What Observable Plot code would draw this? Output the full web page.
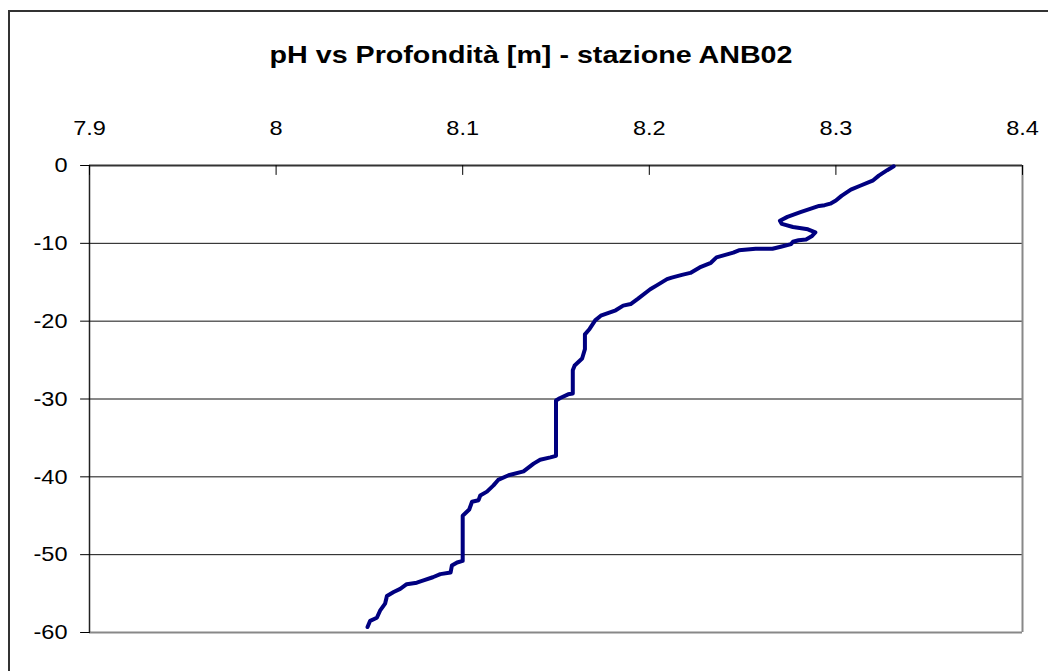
<!DOCTYPE html>
<html><head><meta charset="utf-8">
<script src="https://cdn.jsdelivr.net/npm/d3@7"></script>
<script src="https://cdn.jsdelivr.net/npm/@observablehq/plot@0.6"></script>
<style>
body{margin:0;background:#fff;}
#wrap{position:relative;width:1048px;height:671px;overflow:hidden;background:#fff;}
#border{position:absolute;left:8px;top:10px;width:2000px;height:2000px;border-left:2px solid #333;border-top:2px solid #333;pointer-events:none;z-index:2;}
#wrap svg{position:absolute;left:0;top:0;}
</style></head><body>
<div id="wrap"><div id="border"></div></div>
<script>
const title = "pH vs Profondità [m] - stazione ANB02";
const xTicks = [7.9, 8, 8.1, 8.2, 8.3, 8.4];
const yTicks = [0, -10, -20, -30, -40, -50, -60];
const gridDepths = [-10, -20, -30, -40, -50];

const ph = [8.331, 8.3275, 8.323, 8.320, 8.313, 8.308, 8.303, 8.300, 8.297, 8.294, 8.291,
  8.281, 8.274, 8.270, 8.271, 8.277, 8.285, 8.289, 8.287, 8.284, 8.280, 8.277, 8.276,
  8.271, 8.266, 8.257, 8.248, 8.245, 8.236, 8.233, 8.227, 8.222, 8.2175, 8.212, 8.2095,
  8.204, 8.2005, 8.194, 8.190, 8.186, 8.182, 8.174, 8.171, 8.168, 8.1655, 8.1655, 8.164,
  8.160, 8.159, 8.159, 8.1565, 8.152, 8.150, 8.150, 8.147, 8.1415, 8.138, 8.1326, 8.1246,
  8.119, 8.1165, 8.113, 8.1094, 8.1085, 8.105, 8.1035, 8.100, 8.100, 8.097, 8.0942, 8.0935,
  8.088, 8.084, 8.079, 8.0754, 8.070, 8.0665, 8.063, 8.0594, 8.0584, 8.0557, 8.054, 8.0504, 8.049];
const depth = [-0.1, -0.6, -1.3, -1.9, -2.6, -3.1, -3.9, -4.5, -4.9, -5.1, -5.2,
  -6.0, -6.6, -7.1, -7.5, -7.9, -8.2, -8.6, -9.1, -9.5, -9.6, -9.8, -10.1,
  -10.4, -10.7, -10.7, -10.9, -11.2, -11.8, -12.5, -13.1, -13.8, -14.05, -14.4, -14.6,
  -15.4, -15.9, -17.1, -17.8, -18.0, -18.6, -19.3, -19.9, -21.0, -21.7, -23.6, -24.8,
  -25.7, -26.3, -29.3, -29.4, -29.9, -30.2, -37.3, -37.5, -37.8, -38.3, -39.3, -39.8,
  -40.4, -41.1, -41.9, -42.4, -43.0, -43.2, -44.2, -45.0, -50.8, -51.0, -51.4, -52.3,
  -52.5, -52.9, -53.3, -53.6, -53.8, -54.4, -54.8, -55.3, -56.3, -57.2, -58.1, -58.5, -59.3];

const data = ph.map((v, i) => ({ph: v, depth: depth[i]}));

const tickShape = {draw(context, l) { context.moveTo(0, 0); context.lineTo(0, -l); }};

const chart = Plot.plot({
  width: 1048, height: 671,
  marginTop: 165, marginBottom: 39, marginLeft: 89, marginRight: 26,
  style: {fontFamily: "'Liberation Sans', Arial, sans-serif", background: "transparent", color: "#000", overflow: "visible"},
  x: {domain: [7.9, 8.4], axis: null},
  y: {domain: [-60, 0], axis: null},
  marks: [
    Plot.ruleY(gridDepths, {stroke: "#111", strokeWidth: 1}),
    Plot.ruleY([-60], {stroke: "#888", strokeWidth: 2}),
    Plot.ruleX([8.4], {stroke: "#888", strokeWidth: 2}),
    Plot.ruleY([0], {stroke: "#333", strokeWidth: 2}),
    Plot.ruleX([7.9], {stroke: "#222", strokeWidth: 1.5}),
    Plot.vector(xTicks, {x: d => d, frameAnchor: "top", length: 9, rotate: 180, anchor: "start", shape: tickShape, stroke: "#000", strokeWidth: 1}),
    Plot.vector(yTicks, {y: d => d, frameAnchor: "left", length: 9, rotate: -90, anchor: "start", shape: tickShape, stroke: "#000", strokeWidth: 1}),
    Plot.text(xTicks, {x: d => d, text: d => String(d), frameAnchor: "top", dy: -31, lineAnchor: "bottom", fontSize: 21, fill: "#000", className: "ticklab"}),
    Plot.text(yTicks, {y: d => d, text: d => String(d), frameAnchor: "left", dx: -22, textAnchor: "end", lineAnchor: "middle", fontSize: 21, fill: "#000"}),
    Plot.line(data, {x: "ph", y: "depth", stroke: "#000080", strokeWidth: 4, strokeLinejoin: "round", strokeLinecap: "round"}),
    Plot.text([title], {text: d => d, frameAnchor: "top", dx: -25, dy: -103, lineAnchor: "bottom", fontSize: 24, fontWeight: "bold", fill: "#000"})
  ]
});
document.getElementById("wrap").appendChild(chart);
const tickLabels = new Set([...xTicks, ...yTicks].map(String));
d3.select(chart).selectAll("text")
  .filter(function() { return tickLabels.has(this.textContent); })
  .each(function() {
    const w = this.getComputedTextLength();
    if (w > 0) {
      this.setAttribute("textLength", (w * 1.12).toFixed(1));
      this.setAttribute("lengthAdjust", "spacingAndGlyphs");
    }
  });
d3.select(chart).selectAll("text").filter(function() { return this.textContent === title; })
  .attr("textLength", 523).attr("lengthAdjust", "spacingAndGlyphs");
</script>
</body></html>
